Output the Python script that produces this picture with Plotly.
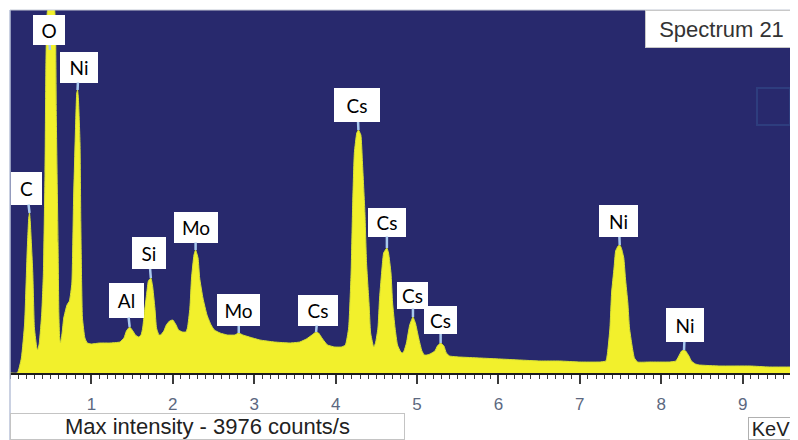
import plotly.graph_objects as go

# ---- data ----
energy_kev = [0.00, 0.09, 0.14, 0.18, 0.21, 0.23, 0.24, 0.25, 0.28, 0.30, 0.33, 0.34, 0.36, 0.39, 0.41,
              0.43, 0.44, 0.45, 0.46, 0.50, 0.53, 0.55, 0.56, 0.57, 0.59, 0.60, 0.61, 0.62, 0.64, 0.66,
              0.70, 0.73, 0.76, 0.78, 0.81, 0.82, 0.83, 0.84, 0.86, 0.87, 0.88, 0.89, 0.92, 0.95, 1.00,
              1.10, 1.22, 1.35, 1.40, 1.43, 1.47, 1.51, 1.54, 1.58, 1.61, 1.63, 1.65, 1.68, 1.70, 1.73,
              1.75, 1.78, 1.80, 1.83, 1.85, 1.89, 1.92, 1.96, 2.00, 2.04, 2.07, 2.12, 2.16, 2.18, 2.21,
              2.23, 2.26, 2.28, 2.31, 2.33, 2.37, 2.42, 2.47, 2.51, 2.58, 2.67, 2.76, 2.81, 2.86, 2.94,
              3.07, 3.25, 3.44, 3.56, 3.64, 3.71, 3.76, 3.79, 3.84, 3.90, 3.99, 4.07, 4.12, 4.16, 4.19,
              4.21, 4.23, 4.26, 4.28, 4.31, 4.33, 4.36, 4.38, 4.41, 4.43, 4.46, 4.47, 4.49, 4.52, 4.54,
              4.57, 4.59, 4.63, 4.65, 4.68, 4.70, 4.73, 4.76, 4.80, 4.82, 4.84, 4.87, 4.91, 4.95, 4.98,
              5.02, 5.06, 5.09, 5.12, 5.16, 5.22, 5.25, 5.29, 5.33, 5.36, 5.40, 5.52, 5.77, 6.02, 6.26,
              6.51, 6.75, 7.00, 7.24, 7.32, 7.34, 7.37, 7.39, 7.42, 7.44, 7.47, 7.49, 7.51, 7.54, 7.56,
              7.59, 7.61, 7.64, 7.67, 7.71, 7.86, 8.10, 8.18, 8.21, 8.25, 8.28, 8.30, 8.34, 8.37, 8.42,
              8.47, 8.72, 9.09, 9.33, 9.68]
counts = [0, 0, 165, 550, 1320, 1705, 1760, 1650, 1100, 495, 275, 253, 330, 660, 1100,
          2200, 3300, 3850, 3982, 4070, 4048, 3982, 3740, 2750, 1430, 660, 385, 330, 440, 605,
          748, 792, 990, 1870, 2860, 3080, 3113, 3025, 2530, 1650, 990, 605, 385, 330, 319,
          330, 330, 341, 385, 462, 506, 462, 418, 396, 418, 495, 660, 880, 1012, 1045,
          968, 715, 495, 418, 418, 462, 528, 572, 583, 528, 473, 451, 451, 495, 715,
          1045, 1298, 1353, 1265, 1045, 825, 638, 528, 473, 440, 418, 418, 440, 418, 396,
          363, 341, 330, 341, 374, 418, 451, 440, 374, 308, 286, 286, 308, 495, 1100,
          1870, 2420, 2640, 2673, 2618, 2310, 1760, 1210, 770, 440, 308, 286, 330, 495, 825,
          1155, 1320, 1375, 1320, 1100, 770, 495, 308, 231, 220, 242, 330, 528, 616, 550,
          385, 242, 198, 198, 209, 242, 297, 330, 297, 220, 187, 176, 165, 154, 143,
          132, 132, 121, 121, 132, 220, 495, 880, 1155, 1342, 1397, 1408, 1375, 1265, 1045,
          770, 495, 308, 165, 121, 121, 121, 132, 176, 242, 253, 242, 187, 132, 99,
          88, 77, 77, 66, 66]

label_text = ["C", "O", "Ni", "Al", "Si", "Mo", "Mo", "Cs", "Cs", "Cs", "Cs", "Cs", "Ni", "Ni"]
label_kev = [0.24, 0.49, 0.83, 1.47, 1.73, 2.28, 2.81, 3.76, 4.28, 4.63, 4.95, 5.29, 7.49, 8.28]
label_counts = [1760, 3553, 3113, 506, 1045, 1353, 440, 451, 2673, 1375, 616, 330, 1408, 253]

tick_vals = [1, 2, 3, 4, 5, 6, 7, 8, 9]
tick_text = ["1", "2", "3", "4", "5", "6", "7", "8", "9"]

spectrum_name = "Spectrum 21"
max_intensity_text = "Max intensity - 3976 counts/s"
unit_text = "KeV"

# ---- style / layout (not data) ----
label_offsets = [(-3, -25), (-1, -20), (1, -23), (-3, -27), (-2, -25), (0, -23), (0, -23),
                 (2, -22), (-1, -25), (0, -26), (0, -22), (0, -23), (-1, -24), (1, -25)]
label_sizes = [(31, 33), (32, 30), (38, 31), (35, 35), (34, 32), (44, 31), (43, 32),
               (40, 31), (46, 34), (38, 29), (31, 27), (33, 28), (39, 32), (38, 34)]

NAVY = "#28296d"
YELLOW = "#f2f02c"
LABEL_FONT = "Lato, Liberation Sans, Arial, sans-serif"
TEXT_FONT = "Liberation Sans, Arial, sans-serif"

# the page body has an 8px margin, so the figure is drawn 8px smaller/offset
OFF = 8
FIG_W, FIG_H = 798 - OFF, 440 - OFF
PLOT_L, PLOT_T, PLOT_R, PLOT_B = 10 - OFF, 10 - OFF, 798 - OFF, 373 - OFF
PW, PH = float(PLOT_R - PLOT_L), float(PLOT_B - PLOT_T)


def px_x(page_x):
    return (page_x - OFF - PLOT_L) / PW


def px_y(page_y):
    return (PLOT_B - (page_y - OFF)) / PH


fig = go.Figure()
fig.add_trace(go.Scatter(
    x=energy_kev, y=counts, mode="lines", fill="tozeroy",
    line=dict(color="#d8e234", width=1, shape="spline", smoothing=0.4),
    fillcolor=YELLOW, hoverinfo="skip", showlegend=False,
))

annotations = []
for t, kx, cy, (ax, ay), (w, h) in zip(label_text, label_kev, label_counts, label_offsets, label_sizes):
    annotations.append(dict(
        x=kx, y=cy, xref="x", yref="y", text=t, showarrow=True,
        ax=ax, ay=ay, arrowhead=0, arrowwidth=2.5, arrowcolor="#a9c9ee", standoff=0,
        bgcolor="white", borderpad=0, borderwidth=0, width=w, height=h,
        font=dict(family=LABEL_FONT, size=19, color="black"),
        xanchor="center", yanchor="middle",
    ))

annotations.append(dict(
    x=px_x(645), y=1, xref="paper", yref="paper", xanchor="left", yanchor="top",
    text=spectrum_name, showarrow=False, width=151, height=36, borderpad=0,
    bgcolor="white", bordercolor="#c8c8c8", borderwidth=1,
    font=dict(family=TEXT_FONT, size=22, color="#333333"),
))
annotations.append(dict(
    x=0, y=px_y(413), xref="paper", yref="paper", xanchor="left", yanchor="top",
    text=max_intensity_text, showarrow=False, width=393, height=25, borderpad=0,
    bgcolor="white", bordercolor="#c4c4c4", borderwidth=1,
    font=dict(family=TEXT_FONT, size=22, color="#222222"),
))
annotations.append(dict(
    x=px_x(748), y=px_y(417), xref="paper", yref="paper",
    xanchor="left", yanchor="top", align="center",
    text=unit_text, showarrow=False, width=44, height=21, borderpad=0,
    bgcolor="white", bordercolor="#b0b0b0", borderwidth=1,
    font=dict(family=TEXT_FONT, size=20, color="#222222"),
))

shapes = [
    dict(type="line", xref="paper", yref="paper", x0=0, x1=1, y0=1, y1=1,
         line=dict(color="#c3c8d4", width=1)),
    dict(type="line", xref="paper", yref="paper", x0=0, x1=0, y0=px_y(440), y1=1,
         line=dict(color="#b8c2d8", width=1.5)),
    dict(type="rect", xref="paper", yref="paper",
         x0=px_x(757), x1=px_x(790), y0=px_y(125), y1=px_y(88),
         line=dict(color="#2e3d7e", width=2)),
]

fig.update_layout(
    width=FIG_W, height=FIG_H,
    margin=dict(l=PLOT_L, r=FIG_W - PLOT_R, t=PLOT_T, b=FIG_H - PLOT_B, pad=0),
    paper_bgcolor="white", plot_bgcolor=NAVY,
    annotations=annotations, shapes=shapes,
    showlegend=False,
)
fig.update_xaxes(
    range=[0, 9.68], showgrid=False, zeroline=False,
    showline=True, linecolor="#1c1c1c", linewidth=2,
    ticks="outside", ticklen=9, tickwidth=1.5, tickcolor="#3a3a3a",
    tickvals=tick_vals, ticktext=tick_text,
    tickfont=dict(family=TEXT_FONT, size=17, color="#5c6880"),
    ticklabelstandoff=6,
    minor=dict(ticks="outside", ticklen=4, tickwidth=1.2, tickcolor="#3a3a3a", dtick=0.1, tick0=0,
               showgrid=False),
)
fig.update_yaxes(range=[0, 3993], showgrid=False, zeroline=False, showline=False,
                 showticklabels=False, ticks="")

fig.write_html("out.html")
